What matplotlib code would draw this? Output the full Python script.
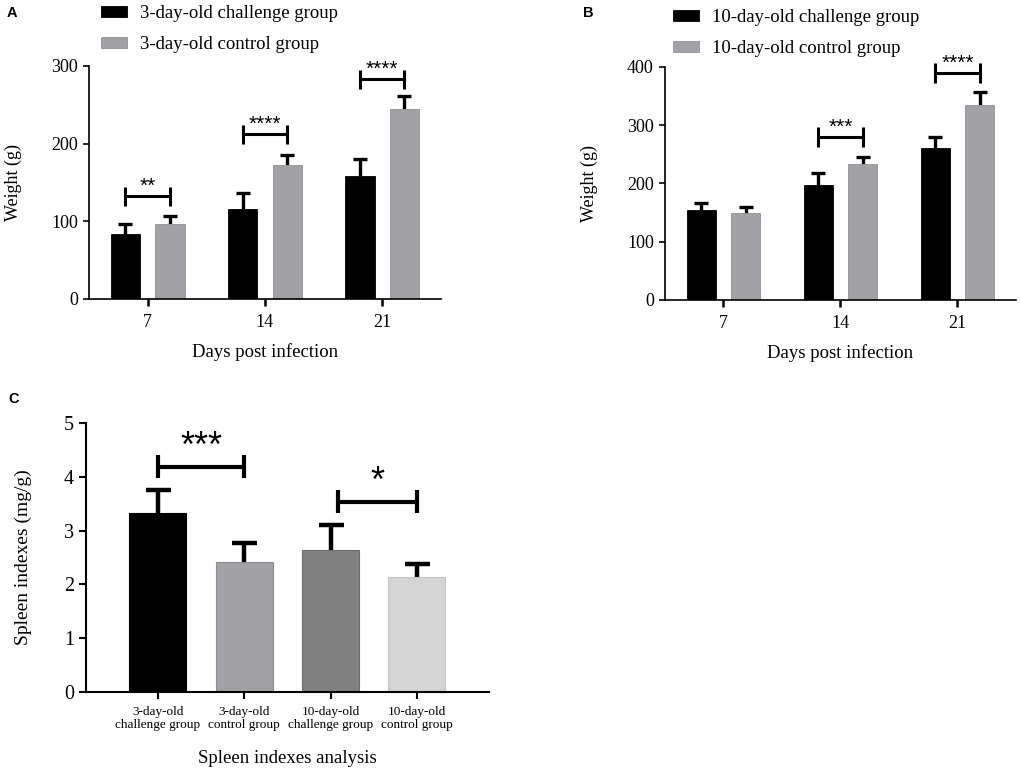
import matplotlib.pyplot as plt
import numpy as np

plt.rcParams['font.family'] = ['Liberation Serif', 'DejaVu Serif']

# ---------------- data ----------------
days = ['7', '14', '21']

a_challenge_mean = [84, 116, 158]
a_challenge_sd = [13, 20, 22]
a_control_mean = [96, 173, 245]
a_control_sd = [11, 12, 16]
a_sig_text = ['**', '****', '****']
a_sig_y = [132, 212, 283]

b_challenge_mean = [154, 198, 261]
b_challenge_sd = [12, 20, 19]
b_control_mean = [149, 233, 335]
b_control_sd = [11, 13, 22]
b_sig_text = ['***', '****']
b_sig_day = [1, 2]
b_sig_y = [280, 390]

c_groups = ['3-day-old\nchallenge group', '3-day-old\ncontrol group',
            '10-day-old\nchallenge group', '10-day-old\ncontrol group']
c_mean = [3.33, 2.42, 2.64, 2.13]
c_sd = [0.43, 0.34, 0.46, 0.24]
c_sig_text = ['***', '*']
c_sig_pairs = [(0, 1), (2.08, 3)]
c_sig_y = [4.19, 3.54]

BLACK = '#000000'
GRAY = '#a1a1a6'
C_COLORS = ['#000000', '#a1a1a6', '#808080', '#d4d4d4']
C_EDGES = ['#000000', '#8c8c90', '#6e6e6e', '#c4c4c4']


def up_errorbar(ax, x, mean, sd, capsize, lw):
    eb = ax.errorbar(x, mean, yerr=[np.zeros(len(sd)), sd], fmt='none',
                     ecolor='black', elinewidth=lw, capsize=capsize,
                     capthick=lw, zorder=1)
    eb[1][0].set_visible(False)   # hide the cap at the bar top


def bracket(ax, x1, x2, y, half, text, lw, fs, off):
    ax.plot([x1, x2], [y, y], color='black', lw=lw, clip_on=False,
            solid_capstyle='butt')
    ax.vlines([x1, x2], y - half, y + half, color='black', lw=lw,
              clip_on=False)
    ax.annotate(text, ((x1 + x2) / 2, y), xytext=(0, off),
                textcoords='offset points', ha='center', va='center',
                fontsize=fs, family='Liberation Sans', annotation_clip=False)


def style_axes(ax, lw=1.2):
    for s in ['top', 'right']:
        ax.spines[s].set_visible(False)
    for s in ['left', 'bottom']:
        ax.spines[s].set_linewidth(lw)


fig = plt.figure(figsize=(10.21, 7.71), dpi=100)

off = 0.19
w = 0.25
xs = np.arange(len(days))
leg_kw = dict(bbox_transform=fig.transFigure, frameon=False, fontsize=13.5,
              handlelength=1.4, handleheight=0.55, handletextpad=0.7,
              labelspacing=0.75, borderpad=0, borderaxespad=0,
              loc='upper left')

# ---------------- panel A ----------------
axA = fig.add_axes([0.0872, 0.6122, 0.3445, 0.3022])
axA.bar(xs - off, a_challenge_mean, w, color=BLACK, edgecolor=BLACK,
        linewidth=0.6, label='3-day-old challenge group', zorder=2)
axA.bar(xs + off, a_control_mean, w, color=GRAY, edgecolor='#929296',
        linewidth=0.6, label='3-day-old control group', zorder=2)
up_errorbar(axA, xs - off, a_challenge_mean, a_challenge_sd, 5, 2.4)
up_errorbar(axA, xs + off, a_control_mean, a_control_sd, 5, 2.4)
for i, t in enumerate(a_sig_text):
    bracket(axA, i - off, i + off, a_sig_y[i], 12, t, 2.2, 15, 7)
axA.set_xlim(-0.5, 2.5)
axA.set_ylim(0, 300)
axA.set_yticks([0, 100, 200, 300])
axA.set_xticks(xs)
axA.set_xticklabels(days)
axA.set_ylabel('Weight (g)', fontsize=13)
axA.set_xlabel('Days post infection', fontsize=13.5)
axA.yaxis.set_label_coords(-0.19, 0.5)
axA.xaxis.set_label_coords(0.5, -0.19)
axA.legend(bbox_to_anchor=(0.099, 0.993), **leg_kw)

# ---------------- panel B ----------------
axB = fig.add_axes([0.6513, 0.6109, 0.3438, 0.3022])
axB.bar(xs - off, b_challenge_mean, w, color=BLACK, edgecolor=BLACK,
        linewidth=0.6, label='10-day-old challenge group', zorder=2)
axB.bar(xs + off, b_control_mean, w, color=GRAY, edgecolor='#929296',
        linewidth=0.6, label='10-day-old control group', zorder=2)
up_errorbar(axB, xs - off, b_challenge_mean, b_challenge_sd, 5, 2.4)
up_errorbar(axB, xs + off, b_control_mean, b_control_sd, 5, 2.4)
for d, t, y in zip(b_sig_day, b_sig_text, b_sig_y):
    bracket(axB, d - off, d + off, y, 17, t, 2.2, 15, 7)
axB.set_xlim(-0.5, 2.5)
axB.set_ylim(0, 400)
axB.set_yticks([0, 100, 200, 300, 400])
axB.set_xticks(xs)
axB.set_xticklabels(days)
axB.set_ylabel('Weight (g)', fontsize=13)
axB.set_xlabel('Days post infection', fontsize=13.5)
axB.yaxis.set_label_coords(-0.19, 0.5)
axB.xaxis.set_label_coords(0.5, -0.19)
axB.legend(bbox_to_anchor=(0.659, 0.988), **leg_kw)

for ax in (axA, axB):
    style_axes(ax)
    ax.tick_params(axis='both', labelsize=13, width=1.2, length=4.5,
                   direction='out')
    ax.tick_params(axis='x', width=1.8, length=5, pad=6)

# ---------------- panel C ----------------
axC = fig.add_axes([0.0842, 0.1025, 0.3947, 0.3489])
xc = np.arange(len(c_groups))
axC.bar(xc, c_mean, 0.66, color=C_COLORS, edgecolor=C_EDGES, linewidth=0.8,
        zorder=2)
up_errorbar(axC, xc, c_mean, c_sd, 9, 3.2)
for (x1, x2), t, y in zip(c_sig_pairs, c_sig_text, c_sig_y):
    bracket(axC, x1, x2, y, 0.21, t, 3, 26, 14)
axC.set_xlim(-0.834, 3.834)
axC.set_ylim(0, 5)
axC.set_yticks(range(6))
axC.set_xticks(xc)
axC.set_xticklabels(c_groups, fontsize=9.5, linespacing=1.1)
axC.set_ylabel('Spleen indexes (mg/g)', fontsize=14)
axC.set_xlabel('Spleen indexes analysis', fontsize=13.5)
axC.yaxis.set_label_coords(-0.134, 0.5)
axC.xaxis.set_label_coords(0.5, -0.215)
style_axes(axC, 1.5)
axC.tick_params(axis='y', labelsize=14.5, width=1.5, length=5)
axC.tick_params(axis='x', width=1.5, length=5, pad=5)

# panel letters
for letter, x, y in [('A', 0.012, 0.983), ('B', 0.576, 0.983), ('C', 0.013, 0.483)]:
    fig.text(x, y, letter, fontsize=10.5, fontweight='bold',
             family='Liberation Sans', va='center', ha='center')

fig.savefig('out.png', dpi=100)
